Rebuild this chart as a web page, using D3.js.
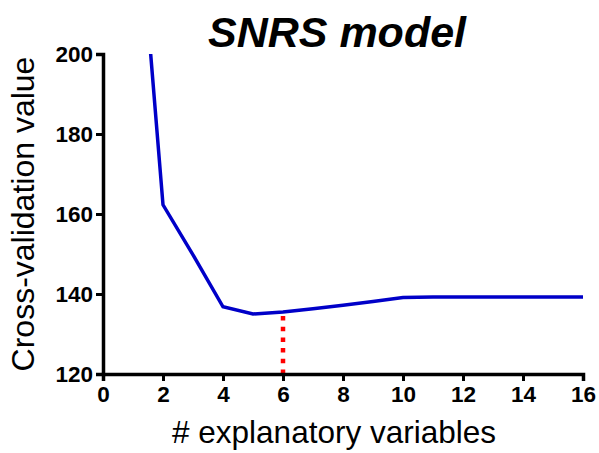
<!DOCTYPE html>
<html>
<head>
    <script src="https://cdn.jsdelivr.net/npm/d3@7/dist/d3.min.js" type="text/javascript"></script>
    <style>
        body { margin: 0; background: #fff; }
        text { font-family: "Liberation Sans", Arial, sans-serif; }
    </style>
</head>
<body>
    <div id="viz"></div>
    <script type="text/javascript">

    // number of explanatory variables vs cross-validation value
    var nVars = [1, 2, 3, 4, 5, 6, 7, 8, 9, 10, 11, 12, 13, 14, 15, 16];
    var cvValues = [254, 162.3, 149.8, 136.8, 135, 135.5, 136.3, 137.2, 138.1, 139.1, 139.25, 139.25, 139.25, 139.25, 139.25, 139.25];
    var xTicks = [0, 2, 4, 6, 8, 10, 12, 14, 16];
    var yTicks = [120, 140, 160, 180, 200];
    var chosenN = 6;

    var width = 599, height = 453;
    var margin = {top: 54, right: 16, bottom: 79, left: 103};

    var svg = d3.select("#viz")
        .append("svg")
        .attr("width", width)
        .attr("height", height);

    var x = d3.scaleLinear().domain([0, 16]).range([margin.left, width - margin.right]);
    var y = d3.scaleLinear().domain([120, 200]).range([height - margin.bottom, margin.top]);

    // clip so the first point (off the top) is cut at 200
    svg.append("clipPath")
        .attr("id", "plotclip")
        .append("rect")
        .attr("x", margin.left)
        .attr("y", margin.top)
        .attr("width", width - margin.left - margin.right)
        .attr("height", height - margin.top - margin.bottom);

    var pts = nVars.map(function(d, i) { return [d, cvValues[i]]; });

    var line = d3.line()
        .x(function(d) { return x(d[0]); })
        .y(function(d) { return y(d[1]); });

    svg.append("path")
        .datum(pts)
        .attr("clip-path", "url(#plotclip)")
        .attr("d", line)
        .style("fill", "none")
        .style("stroke", "#0000c8")
        .style("stroke-width", 3.5)
        .style("stroke-linejoin", "miter");

    // red dotted marker at the chosen model size
    svg.append("line")
        .attr("x1", x(chosenN))
        .attr("x2", x(chosenN))
        .attr("y1", y(120))
        .attr("y2", y(cvValues[nVars.indexOf(chosenN)]) + 4)
        .style("stroke", "#ff0000")
        .style("stroke-width", 4.5)
        .style("stroke-dasharray", "4.5,6.2");

    // axes
    var xAxis = svg.append("g")
        .attr("transform", "translate(0," + y(120) + ")")
        .call(d3.axisBottom(x).tickValues(xTicks).tickSize(7).tickPadding(5).tickFormat(d3.format("d")));

    var yAxis = svg.append("g")
        .attr("transform", "translate(" + x(0) + ",0)")
        .call(d3.axisLeft(y).tickValues(yTicks).tickSize(7).tickPadding(3).tickFormat(d3.format("d")));

    [xAxis, yAxis].forEach(function(g) {
        g.select(".domain").style("stroke", "#000").style("stroke-width", 3.5);
        g.selectAll(".tick line").style("stroke", "#000").style("stroke-width", 3);
        g.selectAll(".tick text")
            .style("font-family", "'Liberation Sans', Arial, sans-serif")
            .style("font-size", "22.5px")
            .style("font-weight", "bold")
            .style("fill", "#000");
    });

    // title
    svg.append("text")
        .attr("x", 337)
        .attr("y", 47)
        .attr("text-anchor", "middle")
        .style("font-size", "43px")
        .style("font-weight", "bold")
        .style("font-style", "italic")
        .text("SNRS model");

    // axis titles
    svg.append("text")
        .attr("x", 334)
        .attr("y", 443)
        .attr("text-anchor", "middle")
        .style("font-size", "31.5px")
        .text("# explanatory variables");

    svg.append("text")
        .attr("transform", "translate(34," + 214 + ") rotate(-90)")
        .attr("text-anchor", "middle")
        .style("font-size", "32px")
        .text("Cross-validation value");

    </script>
</body>
</html>
